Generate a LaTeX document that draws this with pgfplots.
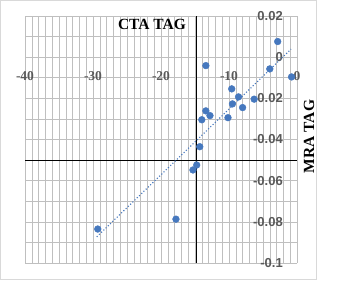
\documentclass[border=0pt]{standalone}
\usepackage{pgfplots}
\pgfplotsset{compat=1.18}
\usepackage{fontspec}
\setmainfont{Liberation Serif}
\newfontfamily\arialf{Liberation Sans}
\definecolor{mk}{RGB}{70,120,190}
\definecolor{tk}{RGB}{89,89,89}
\definecolor{gr}{RGB}{191,191,191}
\definecolor{bd}{RGB}{217,217,217}
\pgfplotstableread{
x y
-2.84 0.0076
-13.4 -0.0041
-4.0 -0.0057
-0.8 -0.0096
-9.6 -0.0154
-8.6 -0.0193
-6.3 -0.0204
-9.5 -0.0227
-8.0 -0.0245
-13.4 -0.0261
-12.8 -0.0284
-14.0 -0.0304
-10.15 -0.0294
-14.3 -0.0435
-14.75 -0.0524
-15.3 -0.0548
-17.8 -0.0787
-29.3 -0.0835
}\pts
\begin{document}
\begin{tikzpicture}
\path[use as bounding box, fill=white] (0pt,0pt) rectangle (337pt,300pt);
\draw[bd, line width=0.8pt] (0.5pt,21pt) rectangle (316pt,299.5pt);
\begin{axis}[at={(25pt,37pt)}, anchor=south west, scale only axis,
  width=272pt, height=247pt,
  xmin=-40, xmax=0, ymin=-0.1, ymax=0.02,
  xtick={-40,-39,...,0},
  ytick={-0.1,-0.09,-0.08,-0.07,-0.06,-0.05,-0.04,-0.03,-0.02,-0.01,0,0.01,0.02},
  xticklabels={}, yticklabels={},
  grid=major, major grid style={gr, line width=0.6pt},
  axis line style={draw=none}, tick style={draw=none},
  clip=false, scaled y ticks=false]
\draw[black, line width=0.9pt] (axis cs:-40,-0.05) -- (axis cs:0,-0.05);
\draw[black, line width=0.9pt] (axis cs:-14.8,-0.1) -- (axis cs:-14.8,0.02);
\pgfplotsinvokeforeach{-40,-30,-20,-10,0}{
  \node[font=\bfseries\fontsize{13.5}{13.5}\selectfont, text=tk, inner sep=0pt] at (axis cs:#1,-0.0092) {#1};
}
\pgfplotsinvokeforeach{0.02,0,-0.02,-0.04,-0.06,-0.08,-0.1}{
  \node[font=\arialf\bfseries\fontsize{13}{13}\selectfont, text=tk, anchor=east, inner sep=0pt] at (axis cs:-2.06,#1) {#1};
}
\addplot[mk, dotted, line width=1.1pt] coordinates {(-29.45,-0.0873) (-0.88,0.0039)};
\addplot[only marks, mark=*, mark size=3.4pt, mark options={fill=mk, draw=mk}] table[x=x,y=y] {\pts};
\end{axis}
\node[font=\bfseries\fontsize{15.5}{15.5}\selectfont] at (152pt,276pt) {CTA TAG};
\node[font=\bfseries\fontsize{15.5}{15.5}\selectfont, rotate=90] at (309pt,163.5pt) {MRA TAG};
\end{tikzpicture}
\end{document}
